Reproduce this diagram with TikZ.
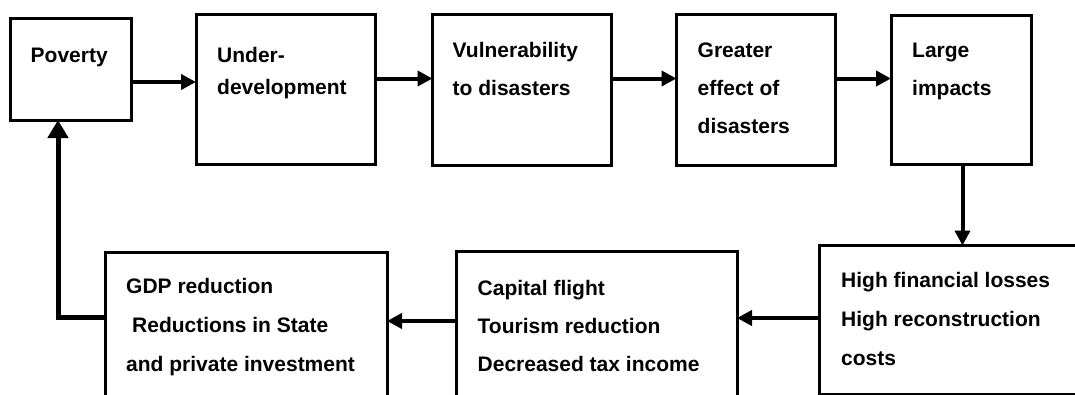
\documentclass[tikz,border=0pt]{standalone}
\usepackage{fontspec}
\setmainfont{Liberation Sans}
\usetikzlibrary{arrows.meta}
\begin{document}
\begin{tikzpicture}[x=1pt, y=-1pt, font=\fontsize{21}{38}\selectfont\bfseries, >={Triangle[length=15pt,width=15pt]},
	box/.style={draw, line width=3pt, anchor=north west, inner sep=0pt, outer sep=0pt},
	txt/.style={anchor=base west, align=left, inner sep=0pt},
	link/.style={->, line width=4pt}]
	\clip (0,0) rectangle (1075,394);
	\node[box, minimum width=121, minimum height=101.5] (pov) at (10.5,18.5) {};
	\node[box, minimum width=179, minimum height=149.5] (udev) at (196,14.5) {};
	\node[box, minimum width=178.5, minimum height=151] (vuln) at (432.5,14.5) {};
	\node[box, minimum width=158.5, minimum height=151] (eff) at (676.5,14.5) {};
	\node[box, minimum width=140, minimum height=149.5] (imp) at (891,15) {};
	\node[box, minimum width=261, minimum height=148.5] (loss) at (819,245.5) {};
	\node[box, minimum width=280.5, minimum height=160] (cap) at (456.5,251.5) {};
	\node[box, minimum width=282, minimum height=160] (gdp) at (105,252.5) {};
	\node[txt] (povtxt) at ([shift={(20,43.5)}]pov.north west) {Poverty};
	\node[txt] (udevtxt) at ([shift={(21,79.5)}]udev.north west) {Under-\\[-6pt]development};
	\node[txt] (vulntxt) at ([shift={(20,80.5)}]vuln.north west) {Vulnerability\\to disasters};
	\node[txt] (efftxt) at ([shift={(21,118.5)}]eff.north west) {Greater\\effect of\\disasters};
	\node[txt] (imptxt) at ([shift={(21,80)}]imp.north west) {Large\\impacts};
	\node[txt] (losstxt) at ([shift={(22,119.5)}]loss.north west) {High financial losses\\[1pt]High reconstruction\\[1pt]costs};
	\node[txt] (captxt) at ([shift={(21,120)}]cap.north west) {Capital flight\\Tourism reduction\\Decreased tax income};
	\node[txt] (gdptxt) at ([shift={(21,119)}]gdp.north west) {GDP reduction\\[1pt]\hspace*{6pt}Reductions in State\\[1pt]and private investment};
	\draw[link] (pov.east |- 0,82) -- (udev.west |- 0,82);
	\draw[link] (udev.east |- 0,78.5) -- (vuln.west |- 0,78.5);
	\draw[link] (vuln.east |- 0,78.5) -- (eff.west |- 0,78.5);
	\draw[link] (eff.east |- 0,78.5) -- (imp.west |- 0,78.5);
	\draw[link] (imp.south -| 962.5,0) -- (loss.north -| 962.5,0);
	\draw[link] (loss.west |- 0,318) -- (cap.east |- 0,318);
	\draw[link] (cap.west |- 0,321) -- (gdp.east |- 0,321);
	\draw[line width=5pt, -{Triangle[length=18pt,width=20pt]}] (gdp.west |- 0,317) -| (pov.south -| 58,0);
\end{tikzpicture}
\end{document}
